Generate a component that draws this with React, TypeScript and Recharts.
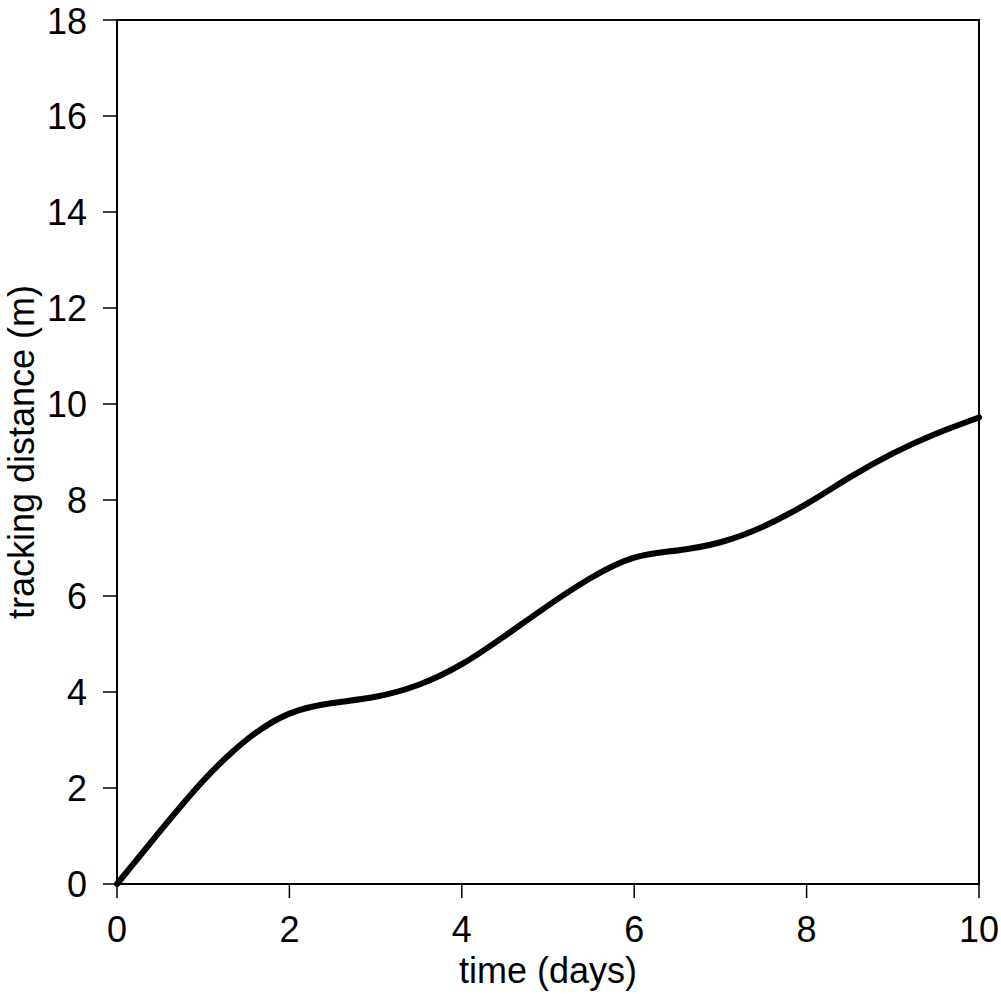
import { LineChart, Line, XAxis, YAxis, ReferenceArea } from "recharts"

// time (days) and tracking distance (m)
const days = [0, 0.5, 1, 1.5, 2, 2.5, 3, 3.5, 4, 4.5, 5, 5.5, 6, 6.5, 7, 7.5, 8, 8.5, 9, 9.5, 10]
const distance = [0, 1.1, 2.15, 3.0, 3.55, 3.77, 3.9, 4.15, 4.58, 5.17, 5.8, 6.38, 6.8, 6.95, 7.12, 7.45, 7.92, 8.47, 8.97, 9.38, 9.72]

const xTicks = [0, 2, 4, 6, 8, 10]
const yTicks = [0, 2, 4, 6, 8, 10, 12, 14, 16, 18]

const data = days.map((d, i) => ({ day: d, dist: distance[i] }))

const FONT = "'Liberation Sans', Arial, sans-serif"
const tickStyle = { fontSize: 36, fill: "#000", fontFamily: FONT }

export default function App() {
  return (
    <div style={{ position: "absolute", left: 0, top: 0, background: "#fff" }}>
      <LineChart
        width={1001}
        height={994}
        data={data}
        margin={{ top: 20, right: 22, bottom: 0, left: 0 }}
      >
        <XAxis
          dataKey="day"
          type="number"
          domain={[0, 10]}
          ticks={xTicks}
          height={110}
          tick={tickStyle}
          tickSize={14}
          tickMargin={18}
          axisLine={{ stroke: "#000", strokeWidth: 2 }}
          tickLine={{ stroke: "#000", strokeWidth: 1.5 }}
          label={{ value: "time (days)", position: "center", dy: 31, fontSize: 36, fill: "#000", fontFamily: FONT }}
        />
        <YAxis
          type="number"
          domain={[0, 18]}
          ticks={yTicks}
          width={117}
          tick={tickStyle}
          tickSize={14}
          tickMargin={16}
          axisLine={{ stroke: "#000", strokeWidth: 2 }}
          tickLine={{ stroke: "#000", strokeWidth: 1.5 }}
          label={{ value: "tracking distance (m)", angle: -90, position: "center", dx: -37, fontSize: 36, fill: "#000", fontFamily: FONT }}
        />
        <ReferenceArea
          x1={0}
          x2={10}
          y1={0}
          y2={18}
          fill="none"
          fillOpacity={0}
          stroke="#000"
          strokeWidth={2}
          strokeOpacity={1}
          ifOverflow="extendDomain"
        />
        <Line
          type="natural"
          dataKey="dist"
          stroke="#000"
          strokeWidth={6}
          strokeLinecap="round"
          dot={false}
          isAnimationActive={false}
        />
      </LineChart>
    </div>
  )
}
